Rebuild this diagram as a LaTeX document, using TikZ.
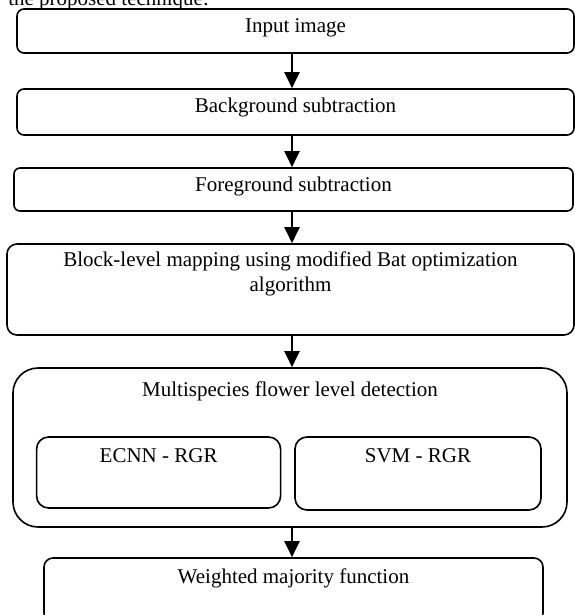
\documentclass[tikz,border=0pt]{standalone}
\usepackage{fontspec}
\setmainfont{Liberation Serif}
\usetikzlibrary{arrows.meta}
\def\u{0.75pt}
\tikzset{
  box/.style={draw, line width=1.2pt, rounded corners=#1, inner sep=0pt},
  lbl/.style={anchor=base, inner sep=0pt, align=center, font=\fontsize{15.75}{18.9}\selectfont},
  arr/.style={line width=1.5pt, -{Triangle[width=15*\u, length=16*\u]}}
}
\begin{document}
\begin{tikzpicture}[x=\u, y=-\u]
			%%%%% START %%%%%
			\useasboundingbox (0,0) rectangle (575,615);
			
			\node[lbl, anchor=base west] (head) at (8,5) {the proposed technique:};
			
			\node[box=7*\u, minimum width=557*\u, minimum height=44*\u] (input) at (295.5,31) {};
			\node[lbl] (inputtxt) at ([yshift=-24*\u]input.north) {Input image};
			
			\node[box=7*\u, minimum width=557*\u, minimum height=46*\u] (bg) at (295.5,112) {};
			\node[lbl] (bgtxt) at ([yshift=-24*\u]bg.north) {Background subtraction};
			
			\node[box=6*\u, minimum width=559*\u, minimum height=43*\u] (fg) at (293.5,189.5) {};
			\node[lbl] (fgtxt) at ([yshift=-24*\u]fg.north) {Foreground subtraction};
			
			% base of a two-line label is its last line
			\node[box=10*\u, minimum width=567*\u, minimum height=91*\u] (block) at (290.5,289.5) {};
			\node[lbl] (blocktxt) at ([yshift=-48*\u]block.north) {Block-level mapping using modified Bat optimization\\algorithm};
			
			\node[box=25*\u, minimum width=554*\u, minimum height=159*\u] (multi) at (290,447.5) {};
			\node[lbl] (multitxt) at ([yshift=-29*\u]multi.north) {Multispecies flower level detection};
			
			\node[box=12*\u, minimum width=244*\u, minimum height=71*\u] (ecnn) at (158.6,472.5) {};
			\node[lbl] (ecnntxt) at ([yshift=-26*\u]ecnn.north) {ECNN - RGR};
			
			\node[box=12*\u, minimum width=246*\u, minimum height=73*\u] (svm) at (418,473.5) {};
			\node[lbl] (svmtxt) at ([yshift=-26*\u]svm.north) {SVM - RGR};
			
			\node[box=9*\u, minimum width=499*\u, minimum height=64*\u] (weighted) at (293.5,590) {};
			\node[lbl] (weightedtxt) at ([yshift=-26*\u]weighted.north) {Weighted majority function};
			
			% arrows all on one vertical line
			\coordinate (ax) at (292,0);
			\draw[arr] (input.south -| ax) -- (bg.north -| ax);
			\draw[arr] (bg.south -| ax) -- (fg.north -| ax);
			\draw[arr] (fg.south -| ax) -- (block.north -| ax);
			\draw[arr] (block.south -| ax) -- (multi.north -| ax);
			\draw[arr] (multi.south -| ax) -- (weighted.north -| ax);
			
			%%%%% END %%%%%
\end{tikzpicture}
\end{document}
